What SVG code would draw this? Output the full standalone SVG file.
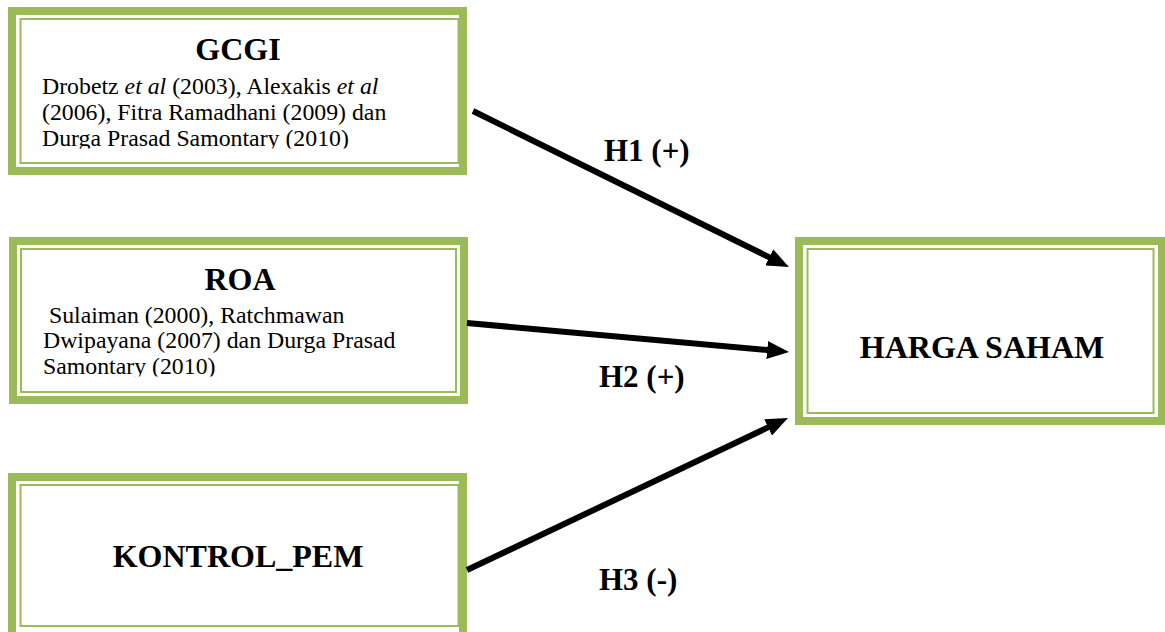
<svg xmlns="http://www.w3.org/2000/svg" width="1165" height="632" viewBox="0 0 1165 632">
<style>
.outer{fill:#fff;stroke:#9BBB59;stroke-width:8}
.inner{fill:none;stroke:#9BBB59;stroke-width:2}
.title{font-family:"Liberation Serif","Times New Roman",serif;font-weight:bold;font-size:32px;fill:#000;text-anchor:middle}
.body{font-family:"Liberation Serif","Times New Roman",serif;font-size:23.8px;fill:#000}
.lbl{font-family:"Liberation Serif","Times New Roman",serif;font-weight:bold;font-size:31px;fill:#000}
.conn{stroke:#000;stroke-width:6;fill:none;marker-end:url(#ah)}
</style>
<defs>
<marker id="ah" markerUnits="userSpaceOnUse" markerWidth="22" markerHeight="18" refX="7" refY="9" orient="auto">
<path d="M0,0 L22,9 L0,18 z" fill="#000"/>
</marker>
<clipPath id="c1"><rect x="20" y="20" width="438" height="128.5"/></clipPath>
<clipPath id="c2"><rect x="21" y="250" width="435" height="126.5"/></clipPath>
</defs>
<g id="gcgi">
<rect class="outer" x="12" y="11" width="451" height="160"/>
<rect class="inner" x="20.5" y="19" width="438" height="144"/>
<text class="title" x="238" y="60">GCGI</text>
<g clip-path="url(#c1)">
<text class="body" x="42" y="94">Drobetz <tspan font-style="italic">et al</tspan> (2003), Alexakis <tspan font-style="italic">et al</tspan></text>
<text class="body" x="42" y="120">(2006), Fitra Ramadhani (2009) dan</text>
<text class="body" x="42" y="146">Durga Prasad Samontary (2010)</text>
</g>
</g>
<g id="roa">
<rect class="outer" x="13" y="241" width="451" height="159"/>
<rect class="inner" x="21" y="249" width="435" height="143"/>
<text class="title" x="240" y="290">ROA</text>
<g clip-path="url(#c2)">
<text class="body" x="43" y="323" xml:space="preserve"> Sulaiman (2000), Ratchmawan</text>
<text class="body" x="43" y="348">Dwipayana (2007) dan Durga Prasad</text>
<text class="body" x="43" y="374">Samontary (2010)</text>
</g>
</g>
<g id="kontrol">
<rect class="outer" x="12" y="477" width="451" height="161"/>
<rect class="inner" x="20.5" y="485" width="438" height="141"/>
<text class="title" x="238" y="567">KONTROL_PEM</text>
</g>
<g id="harga">
<rect class="outer" x="799" y="241" width="363" height="180"/>
<rect class="inner" x="807.5" y="249" width="346" height="164"/>
<text class="title" x="982" y="358">HARGA SAHAM</text>
</g>
<g id="connectors">
<line class="conn" x1="473" y1="111" x2="775.5" y2="260.4"/>
<line class="conn" x1="467" y1="323" x2="774.1" y2="350.7"/>
<line class="conn" x1="467" y1="570" x2="774.4" y2="424.4"/>
<text class="lbl" x="604" y="161">H1 (+)</text>
<text class="lbl" x="599" y="387">H2 (+)</text>
<text class="lbl" x="599" y="590">H3 (-)</text>
</g>
</svg>
